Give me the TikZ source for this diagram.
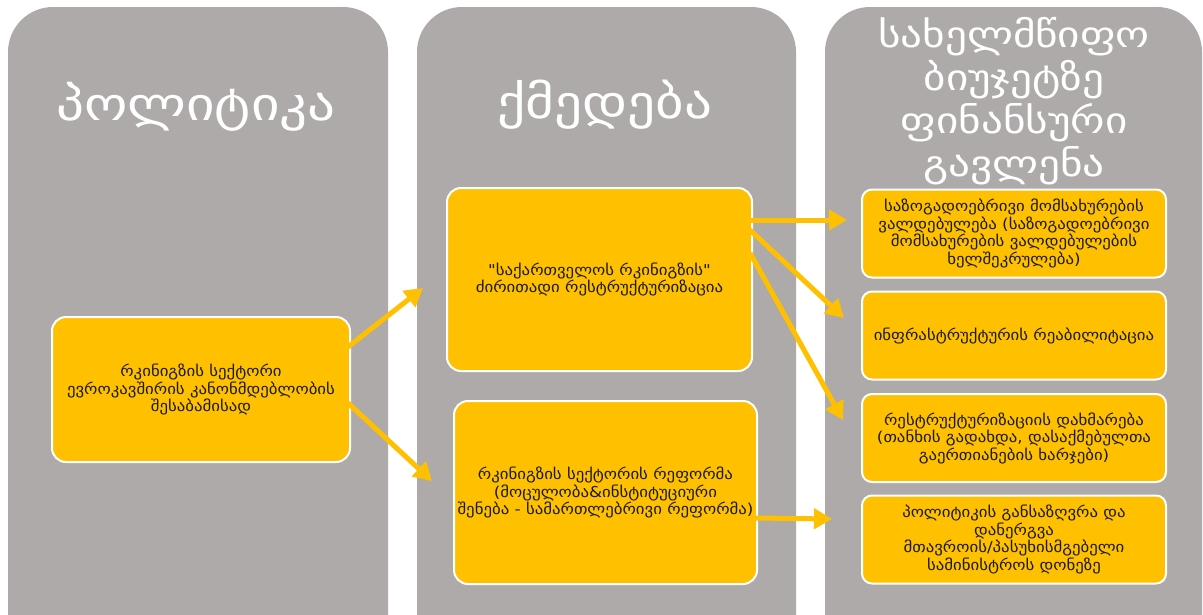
\documentclass[tikz,border=0pt]{standalone}
\usepackage{fontspec}
\setmainfont{DejaVu Sans}[Ligatures=TeXOff, FakeStretch=1.12]
\newfontfamily\titlefont{DejaVu Sans}[Ligatures=TeXOff, FakeStretch=1.2]
\usetikzlibrary{arrows.meta}
\definecolor{colgray}{HTML}{AEAAAA}
\definecolor{gold}{HTML}{FFC000}
\definecolor{boxtext}{HTML}{1A1A1A}
\begin{document}
\begin{tikzpicture}[x=1pt,y=-1pt,
  column/.style={fill=colgray, draw=none, rounded corners=45pt},
  box/.style={draw=white, line width=2pt, fill=gold, rounded corners=14pt, align=center,
    inner sep=0pt, text=boxtext, font=\fontsize{15}{17.5}\selectfont},
  bigbox/.style={box, minimum width=300pt},
  smallbox/.style={box, rounded corners=10pt, minimum width=304pt, minimum height=88pt},
  link/.style={draw=gold, line width=5pt, -{Triangle[length=18pt,width=20pt]}},
  title/.style={text=white, font=\titlefont\fontsize{46}{48}\selectfont},
  title3/.style={text=white, align=center, font=\titlefont\fontsize{36}{43}\selectfont}]
\useasboundingbox (0,0) rectangle (1203,614);
\clip (0,0) rectangle (1203,614);
\fill[white] (0,0) rectangle (1203,614);
% columns
\path[column] (8,7) rectangle (388,700);
\path[column] (417,7) rectangle (796,700);
\path[column] (825,7) rectangle (1202,700);
% titles
\node[title, anchor=base] (t1) at (196,120) {პოლიტიკა};
\node[title, anchor=base] (t2) at (605,118) {ქმედება};
\node[title3, anchor=north] (t3) at (1014,14) {სახელმწიფო\\ბიუჯეტზე\\ფინანსური\\გავლენა};
% boxes
\node[bigbox, minimum width=298pt, minimum height=145pt] (A) at (201,389.5)
  {რკინიგზის სექტორი\\ევროკავშირის კანონმდებლობის\\შესაბამისად};
\node[bigbox, minimum width=305pt, minimum height=183pt] (B) at (599.5,279.5)
  {"საქართველოს რკინიგზის"\\ძირითადი რესტრუქტურიზაცია};
\node[bigbox, minimum width=303pt, minimum height=183pt] (C) at (605.5,492.5)
  {რკინიგზის სექტორის რეფორმა\\(მოცულობა\&ინსტიტუციური\\შენება - სამართლებრივი რეფორმა)};
\node[smallbox] (D) at (1014,233.5)
  {საზოგადოებრივი მომსახურების\\ვალდებულება (საზოგადოებრივი\\მომსახურების ვალდებულების\\ხელშეკრულება)};
\node[smallbox] (E) at (1014,335.5) {ინფრასტრუქტურის რეაბილიტაცია};
\node[smallbox] (F) at (1014,438)
  {რესტრუქტურიზაციის დახმარება\\(თანხის გადახდა, დასაქმებულთა\\გაერთიანების ხარჯები)};
\node[smallbox] (G) at (1014,539.5)
  {პოლიტიკის განსაზღვრა და\\დანერგვა\\მთავროის/პასუხისმგებელი\\სამინისტროს დონეზე};
% arrow ends
\coordinate (eAB) at (423,288);
\coordinate (eAC) at (432,481);
\coordinate (eBD) at (847,220);
\coordinate (eBE) at (844,318);
\coordinate (eBF) at (843,420);
\coordinate (eCG) at (832,519);
% arrows
\draw[link] ([xshift=-3pt,yshift=42.5pt]A.east) -- (eAB);
\draw[link] ([xshift=-3pt,yshift=-13.5pt]A.east) -- (eAC);
\draw[link] ([xshift=-3pt,yshift=59.5pt]B.east) -- (eBD);
\draw[link] ([xshift=-3pt,yshift=49.5pt]B.east) -- (eBE);
\draw[link] ([xshift=-3pt,yshift=26.5pt]B.east) -- (eBF);
\draw[link] ([xshift=-3pt,yshift=-25.5pt]C.east) -- (eCG);
\end{tikzpicture}
\end{document}
